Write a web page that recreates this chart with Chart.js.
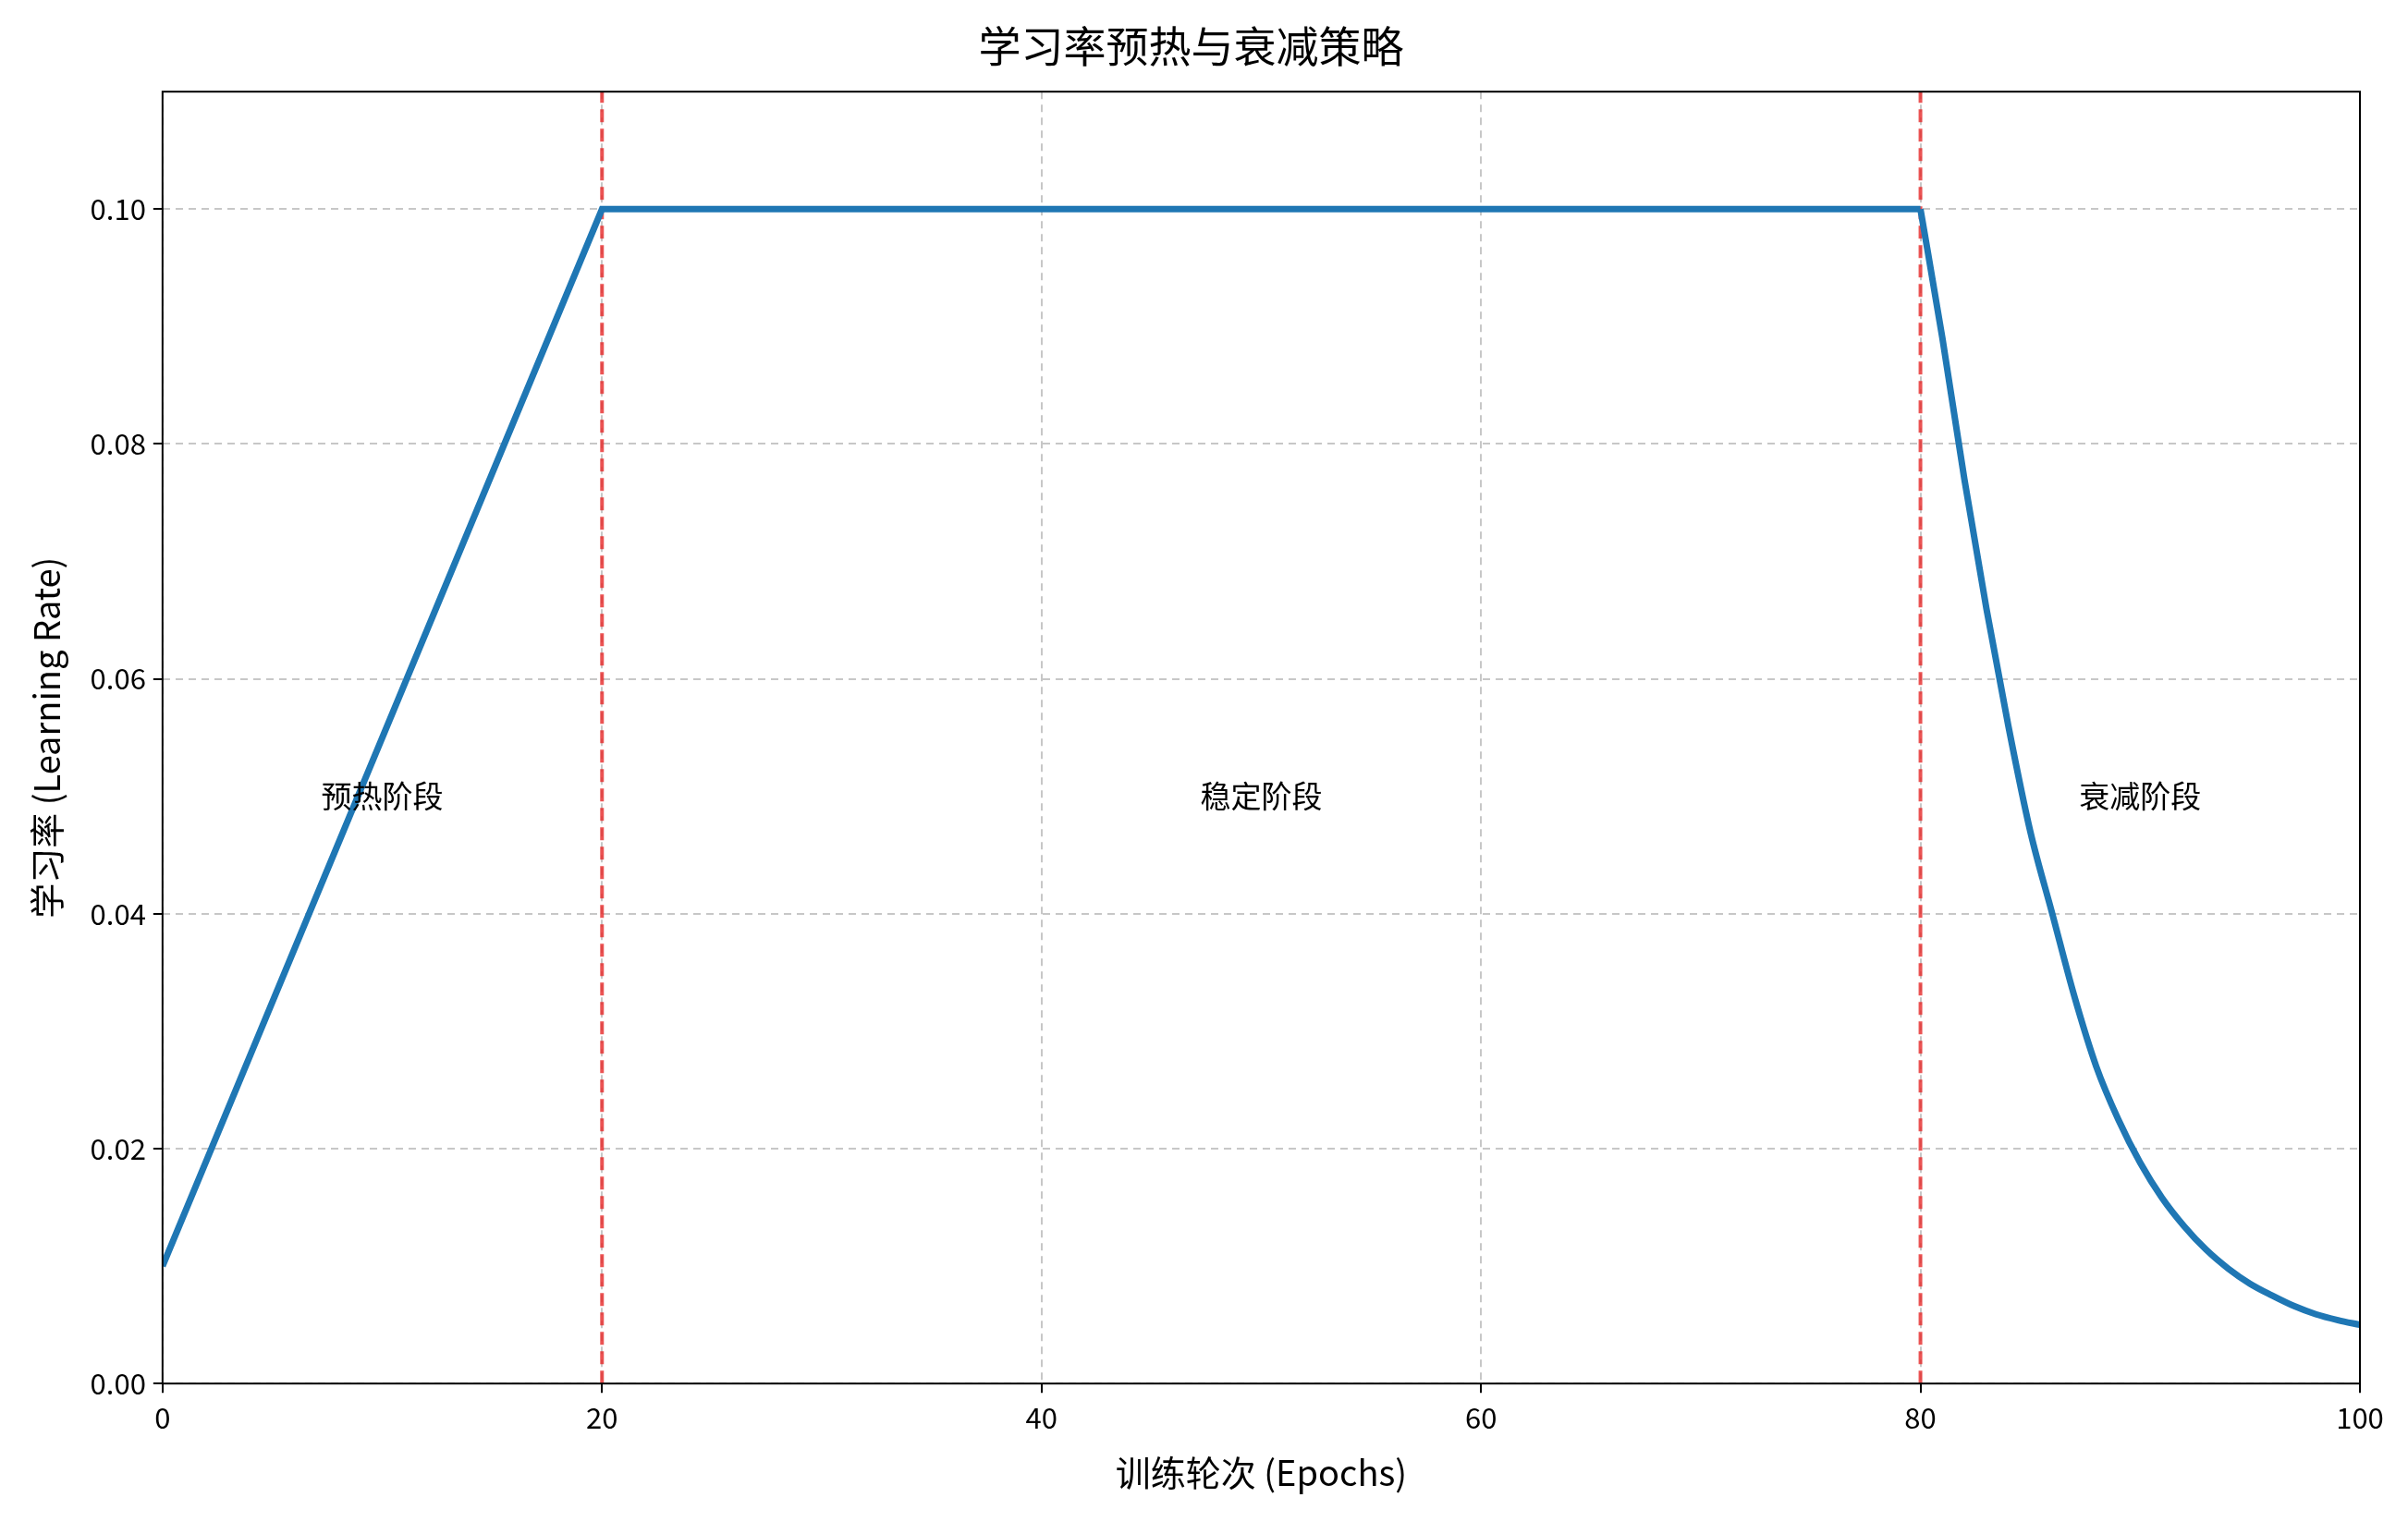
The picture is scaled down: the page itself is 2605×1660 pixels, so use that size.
<!DOCTYPE html>
<html><head><meta charset="utf-8">
<script src="https://cdn.jsdelivr.net/npm/chart.js@4"></script>
<style>body{margin:0;background:#fff}#wrap{width:2605px;height:1660px}</style>
</head><body><div id="wrap"><canvas id="c"></canvas></div>
<script>
// learning rate schedule
const rampEpochs = [0, 20, 80];
const rampValues = [0.01, 0.1, 0.1];
const decayEpochs = [80, 81, 82, 83, 84, 85, 86, 87, 88, 89, 90, 91, 92, 93, 94, 95, 96, 97, 98, 99, 100];
const decayValues = [0.1, 0.089, 0.077, 0.066, 0.056, 0.047, 0.040, 0.033, 0.027, 0.0225, 0.0188, 0.0158, 0.0134, 0.0114, 0.0098, 0.0085, 0.0075, 0.0066, 0.0059, 0.0054, 0.005];
const phaseBounds = [20, 80];
const phaseLabels = ['预热阶段', '稳定阶段', '衰减阶段'];
const phaseLabelX = [10, 50, 90];
const phaseLabelY = 0.05;

const font = '"Noto Sans CJK SC", "Noto Sans", sans-serif';
const toPts = (xs, ys) => xs.map((e, i) => ({ x: e, y: ys[i] }));
const boundSets = phaseBounds.map(b => ({
    data: [{ x: b, y: 0 }, { x: b, y: 0.11 }],
    borderColor: 'rgba(230,40,40,0.8)', borderWidth: 4, borderDash: [14, 7],
    pointRadius: 0, order: 2
}));

const phaseText = {
    id: 'phaseText',
    afterDatasetsDraw(chart) {
        const { ctx, scales: { x, y } } = chart;
        ctx.save();
        ctx.font = '33px ' + font;
        ctx.fillStyle = '#000';
        ctx.textAlign = 'center';
        ctx.textBaseline = 'middle';
        phaseLabels.forEach((t, i) => ctx.fillText(t, x.getPixelForValue(phaseLabelX[i]), y.getPixelForValue(phaseLabelY)));
        const a = chart.chartArea;
        ctx.strokeStyle = '#000'; ctx.lineWidth = 2;
        ctx.strokeRect(a.left, a.top, a.right - a.left, a.bottom - a.top);
        ctx.restore();
    }
};

const lineStyle = { borderColor: '#1f77b4', borderWidth: 7, pointRadius: 0, order: 1 };

new Chart(document.getElementById('c'), {
    type: 'line',
    data: {
        datasets: [
            { ...lineStyle, data: toPts(rampEpochs, rampValues), tension: 0 },
            { ...lineStyle, data: toPts(decayEpochs, decayValues), cubicInterpolationMode: 'monotone' },
            ...boundSets
        ]
    },
    options: {
        responsive: true, maintainAspectRatio: false, animation: false,
        layout: { padding: { top: 8, right: 52, left: 24, bottom: 40 } },
        plugins: {
            legend: { display: false }, tooltip: { enabled: false },
            title: { display: true, text: '学习率预热与衰减策略', color: '#000', font: { family: font, size: 46, weight: 'normal' }, padding: { top: 14, bottom: 22 } }
        },
        scales: {
            x: {
                type: 'linear', min: 0, max: 100,
                ticks: { stepSize: 20, color: '#000', font: { family: font, size: 31 }, padding: 8 },
                grid: { color: 'rgba(0,0,0,0.22)', lineWidth: 2, tickColor: '#000', tickLength: 10 },
                border: { dash: [8, 6], color: '#000' },
                title: { display: true, text: '训练轮次 (Epochs)', color: '#000', font: { family: font, size: 38 }, padding: { top: 10 } }
            },
            y: {
                min: 0, max: 0.11,
                afterBuildTicks(s) { s.ticks = [0, 0.02, 0.04, 0.06, 0.08, 0.1].map(v => ({ value: v })); },
                ticks: { color: '#000', font: { family: font, size: 31 }, padding: 8, callback: v => v.toFixed(2) },
                grid: { color: 'rgba(0,0,0,0.22)', lineWidth: 2, tickColor: '#000', tickLength: 10 },
                border: { dash: [8, 6], color: '#000' },
                title: { display: true, text: '学习率 (Learning Rate)', color: '#000', font: { family: font, size: 38 }, padding: { bottom: 16 } }
            }
        }
    },
    plugins: [phaseText]
});
</script></body></html>
